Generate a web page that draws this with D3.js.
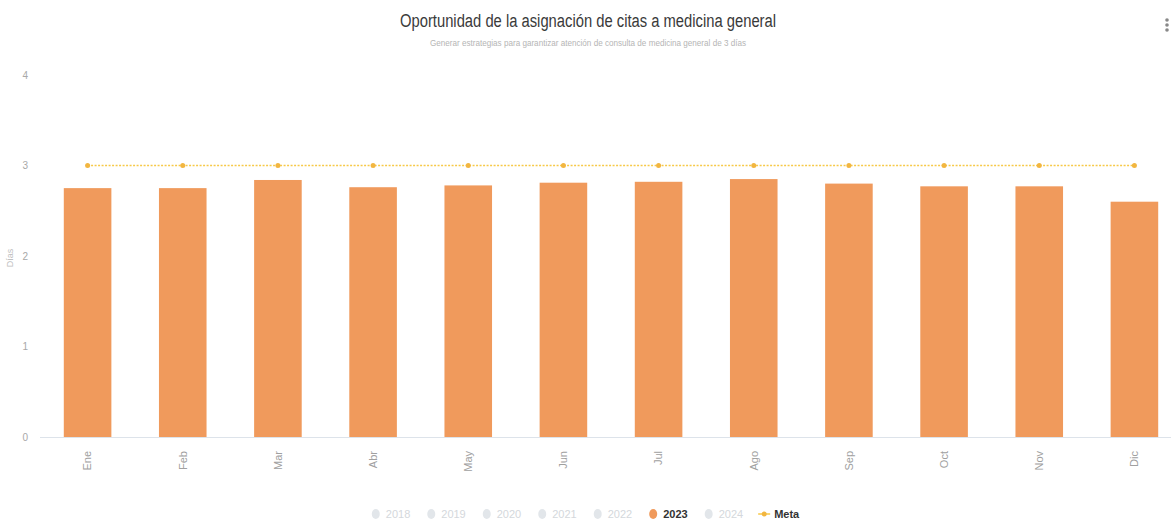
<!DOCTYPE html>
<html><head><meta charset="utf-8">
<script src="https://cdn.jsdelivr.net/npm/d3@7"></script>
<style>
html,body{margin:0;padding:0;background:#fff;overflow:hidden}
svg{display:block;font-family:"Liberation Sans",Arial,sans-serif}
</style></head><body>
<svg id="c" width="1171" height="528"></svg>
<script>
const months = ["Ene","Feb","Mar","Abr","May","Jun","Jul","Ago","Sep","Oct","Nov","Dic"];
const values2023 = [2.75,2.75,2.84,2.76,2.78,2.81,2.82,2.85,2.80,2.77,2.77,2.60];
const metaValues = [3,3,3,3,3,3,3,3,3,3,3,3];
const yTicks = [0,1,2,3,4];
const legendLabels = ["2018","2019","2020","2021","2022","2023","2024","Meta"];
const activeLegend = "2023";
const titleText = "Oportunidad de la asignación de citas a medicina general";
const subtitleText = "Generar estrategias para garantizar atención de consulta de medicina general de 3 días";
const yAxisLabel = "Días";

const svg = d3.select("#c");
const barColor = "#f09a5c", metaColor = "#f7c948";

const x = d3.scaleBand().domain(months).range([40, 1182]).paddingInner(0.5).paddingOuter(0.25);
const y = d3.scaleLinear().domain([0,4]).range([437, 75]);

// title
svg.append("text").attr("x",588).attr("y",27).attr("text-anchor","middle")
  .attr("font-size",18).attr("fill","#3a3a3a")
  .attr("textLength",376).attr("lengthAdjust","spacingAndGlyphs").text(titleText);
svg.append("text").attr("x",588).attr("y",46).attr("text-anchor","middle")
  .attr("font-size",9).attr("fill","#b5b5b5")
  .attr("textLength",316).attr("lengthAdjust","spacingAndGlyphs").text(subtitleText);

// menu icon
svg.append("g").selectAll("circle").data([0,1,2]).join("circle")
  .attr("cx",1167).attr("cy",d=>20+d*5).attr("r",1.8).attr("fill","#888");

// y axis
const yAxis = d3.axisLeft(y).tickValues(yTicks).tickSize(0).tickPadding(0).tickFormat(d3.format("d"));
const yg = svg.append("g").attr("transform","translate(28,0)").call(yAxis);
yg.select(".domain").remove();
yg.selectAll("text").attr("fill","#a8a8a8").attr("font-size",10);
svg.append("text").attr("transform","translate(13,258) rotate(-90)").attr("text-anchor","middle")
  .attr("font-size",9).attr("fill","#c0c0c0").text(yAxisLabel);

// bars
svg.append("g").selectAll("rect").data(months).join("rect")
  .attr("x",d=>x(d)).attr("width",x.bandwidth())
  .attr("y",(d,i)=>y(values2023[i])).attr("height",(d,i)=>y(0)-y(values2023[i]))
  .attr("fill",barColor);

// baseline
svg.append("line").attr("x1",40).attr("x2",1171).attr("y1",437.5).attr("y2",437.5)
  .attr("stroke","#dde3ea").attr("stroke-width",1);

// x axis labels
const xAxis = d3.axisBottom(x).tickSize(0).tickPadding(0);
const xg = svg.append("g").attr("transform","translate(0,437)").call(xAxis);
xg.select(".domain").remove();
xg.selectAll("text").attr("transform","translate(0,14) rotate(-90)")
  .attr("text-anchor","end").attr("dy","0.35em").attr("y",0).attr("x",0)
  .attr("font-size",11).attr("fill","#a0a0a0");

// meta line
const line = d3.line().x((d,i)=>x(months[i])+x.bandwidth()/2).y(d=>y(d));
svg.append("path").datum(metaValues).attr("d",line).attr("fill","none")
  .attr("stroke",metaColor).attr("stroke-width",1.5).attr("stroke-dasharray","2,1.5");
svg.append("g").selectAll("circle").data(metaValues).join("circle")
  .attr("cx",(d,i)=>x(months[i])+x.bandwidth()/2).attr("cy",d=>y(d)).attr("r",2.5)
  .attr("fill","#f2b640");

// legend
const lg = svg.append("g");
let cx = 0;
legendLabels.forEach(l=>{
  const g = lg.append("g").attr("transform",`translate(${cx},0)`);
  const active = l===activeLegend, isMeta = l==="Meta";
  if(isMeta){
    g.append("line").attr("x1",-1).attr("x2",11).attr("y1",0).attr("y2",0).attr("stroke",metaColor).attr("stroke-width",1.5);
    g.append("circle").attr("cx",5).attr("cy",0).attr("r",2.5).attr("fill","#f2b640");
  } else {
    g.append("ellipse").attr("cx",5).attr("cy",0).attr("rx",4).attr("ry",5)
      .attr("fill",active?barColor:"#e2e6ea");
  }
  const t = g.append("text").attr("x",15).attr("y",0).attr("dy","0.35em")
    .attr("font-size",11).attr("fill",(active||isMeta)?"#333":"#d4d8dc")
    .attr("font-weight",(active||isMeta)?"bold":"normal").text(l);
  const w = t.node().getComputedTextLength();
  cx += 15 + w + 16;
});
const total = cx - 16;
lg.attr("transform",`translate(${585 - total/2},514)`);
</script>
</body></html>
